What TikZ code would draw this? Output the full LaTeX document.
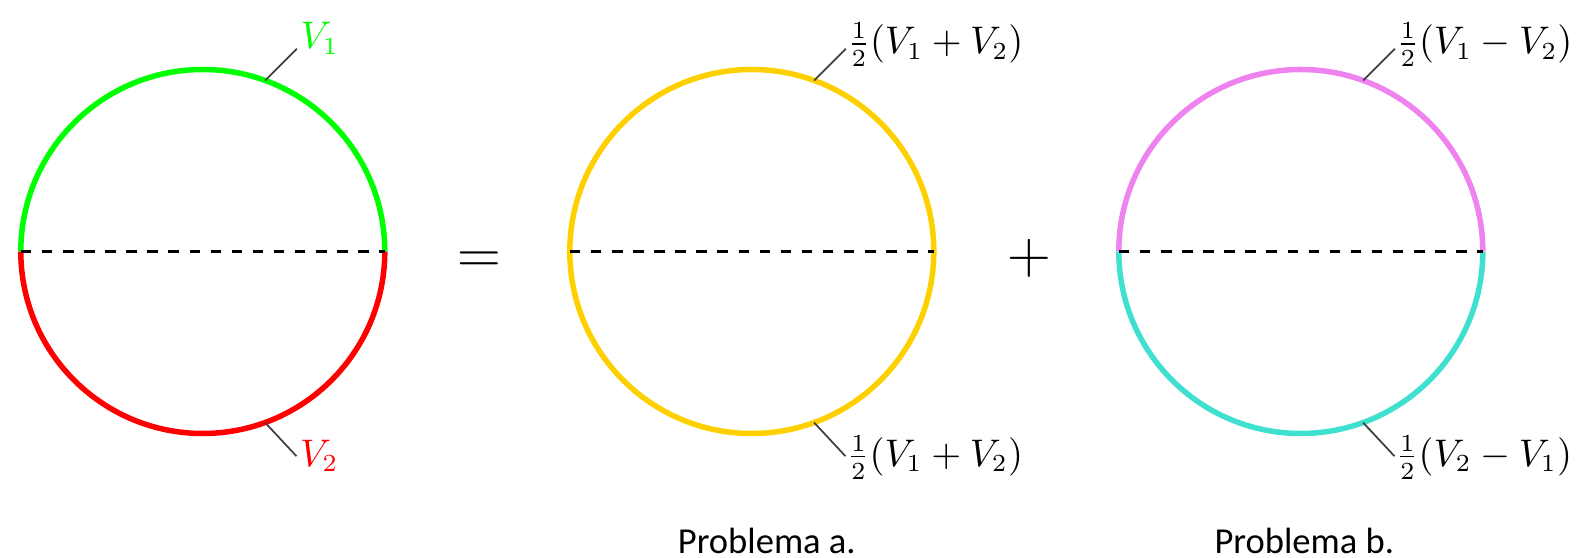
\documentclass[tikz,border=0pt]{standalone}
\usepackage{amsmath,amssymb}
\usepackage{fontspec}
\newfontfamily\carlito{Carlito}
\usetikzlibrary{calc}
\definecolor{vgreen}{RGB}{0,255,0}
\definecolor{vred}{RGB}{255,0,0}
\definecolor{vgold}{RGB}{255,208,0}
\definecolor{vviolet}{RGB}{238,130,238}
\definecolor{vturq}{RGB}{64,224,208}

\begin{document}
\begin{tikzpicture}[
    arcline/.style={line width=0.055cm},
    leader/.style={draw=black!75, line width=0.5pt},
    lbl/.style={inner sep=0pt, anchor=base west, font=\fontsize{10.7}{13}\selectfont},
    sign/.style={inner sep=0pt, anchor=base, font=\fontsize{19}{22}\selectfont},
    caption/.style={inner sep=0pt, anchor=base, font=\carlito\fontsize{10.4}{12}\selectfont}
  ]
    \useasboundingbox (-2.028,-3.065) rectangle (13.872,2.515);
    % V1 + V2
    \begin{scope}
      \draw[arcline, vgreen] (0:1.82) arc (0:180:1.82);
      \draw[arcline, vred] (180:1.82) arc (180:360:1.82);
      \coordinate (l1) at (180:1.82);
      \coordinate (r1) at (0:1.82);
      \draw[dashed, semithick] (l1) -- (r1);
      \coordinate (t1) at (70:1.82);
      \coordinate (e1) at ($(t1)+(45:0.45)$);
      \coordinate (b1) at (-70:1.82);
      \coordinate (f1) at ($(b1)+(-47:0.46)$);
      \draw[leader] (t1) -- (e1);
      \draw[leader] (b1) -- (f1);
      \node[lbl, vgreen] (v1) at ($(e1)+(0.03,0)$) {$V_1$};
      \node[lbl, vred] (v2) at ($(f1)+(0.03,-0.10)$) {$V_2$};
    \end{scope}
    \node[sign] (eq) at (2.765,-0.224) {$=$};
    % Problema a.
    \begin{scope}[xshift=5.49cm]
      \draw[arcline, vgold] (0,0) circle (1.82);
      \coordinate (l2) at (180:1.82);
      \coordinate (r2) at (0:1.82);
      \draw[dashed, semithick] (l2) -- (r2);
      \coordinate (t2) at (70:1.82);
      \coordinate (e2) at ($(t2)+(45:0.45)$);
      \coordinate (b2) at (-70:1.82);
      \coordinate (f2) at ($(b2)+(-47:0.46)$);
      \draw[leader] (t2) -- (e2);
      \draw[leader] (b2) -- (f2);
      \node[lbl] (a1) at ($(e2)+(0.01,-0.05)$) {$\frac{1}{2}(V_1+V_2)$};
      \node[lbl] (a2) at ($(f2)+(0.01,-0.10)$) {$\frac{1}{2}(V_1+V_2)$};
      \node[caption] (pa) at (0.15,-3.025) {Problema a.};
    \end{scope}
    \node[sign] (plus) at (8.265,-0.224) {$+$};
    % Problema b.
    \begin{scope}[xshift=10.98cm]
      \draw[arcline, vviolet] (0:1.82) arc (0:180:1.82);
      \draw[arcline, vturq] (180:1.82) arc (180:360:1.82);
      \coordinate (l3) at (180:1.82);
      \coordinate (r3) at (0:1.82);
      \draw[dashed, semithick] (l3) -- (r3);
      \coordinate (t3) at (70:1.82);
      \coordinate (e3) at ($(t3)+(45:0.45)$);
      \coordinate (b3) at (-70:1.82);
      \coordinate (f3) at ($(b3)+(-47:0.46)$);
      \draw[leader] (t3) -- (e3);
      \draw[leader] (b3) -- (f3);
      \node[lbl] (c1) at ($(e3)+(0.01,-0.05)$) {$\frac{1}{2}(V_1-V_2)$};
      \node[lbl] (c2) at ($(f3)+(0.01,-0.10)$) {$\frac{1}{2}(V_2-V_1)$};
      \node[caption] (pb) at (0.035,-3.025) {Problema b.};
    \end{scope}
  \end{tikzpicture}
\end{document}
